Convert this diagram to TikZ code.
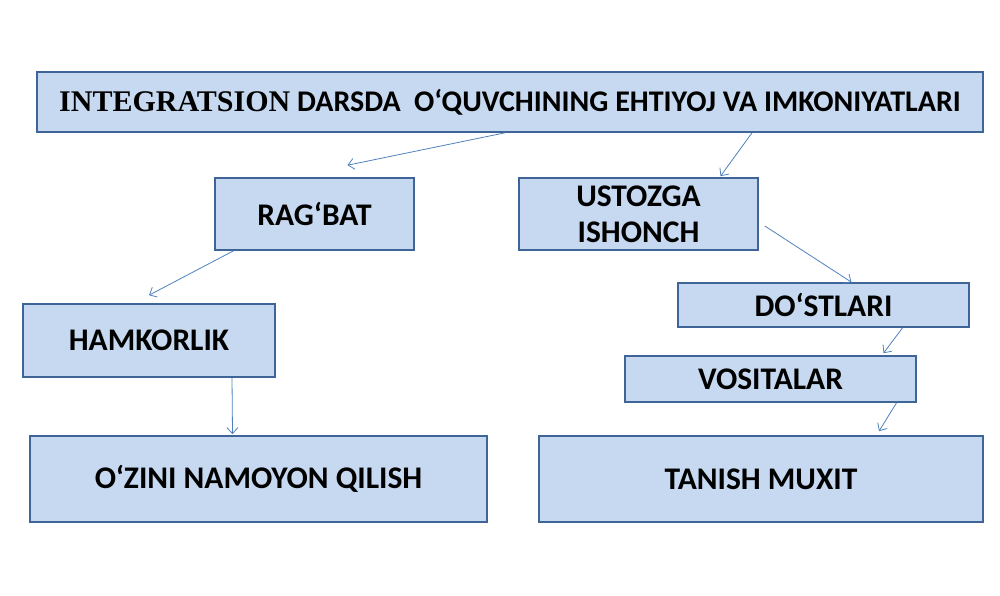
\documentclass[tikz,border=0pt]{standalone}
\usepackage{fontspec}
\setmainfont{Carlito}
\newfontfamily\timesfont{Liberation Serif}
\usetikzlibrary{arrows.meta}

\begin{document}
\begin{tikzpicture}[x=1pt,y=-1pt,
  box/.style={draw=edge, fill=boxfill, line width=1.6pt, align=center, inner sep=0pt,
    font=\bfseries\fontsize{31.5}{36}\selectfont},
  link/.style={draw=wire, line width=0.8pt, -{Straight Barb[length=6pt,width=11pt]}}]
  \definecolor{boxfill}{RGB}{198,217,240}
  \definecolor{edge}{RGB}{62,100,152}
  \definecolor{wire}{RGB}{79,129,189}

  \useasboundingbox (0,0) rectangle (1000,595);

  \node[box, minimum width=946, minimum height=60, font=\bfseries\fontsize{30}{36}\selectfont]
    (goal) at (510,102) {{\timesfont INTEGRATSION} DARSDA\ \ O‘QUVCHINING EHTIYOJ VA IMKONIYATLARI};

  \node[box, minimum width=199, minimum height=72] (rag) at (314.5,214) {RAG‘BAT};
  \node[box, minimum width=239, minimum height=72] (ust) at (638.5,214) {USTOZGA\\ISHONCH};
  \node[box, minimum width=291, minimum height=44] (dost) at (823.5,305) {DO‘STLARI};
  \node[box, minimum width=291, minimum height=46] (vos) at (770.5,379) {VOSITALAR};
  \node[box, minimum width=252, minimum height=73] (ham) at (149,340.5) {HAMKORLIK};
  \node[box, minimum width=457, minimum height=86] (ozini) at (258.5,479) {O‘ZINI NAMOYON QILISH};
  \node[box, minimum width=444, minimum height=86] (tanish) at (761,479) {TANISH MUXIT};

  \draw[link] ([xshift=-5]goal.south) -- ([xshift=33,yshift=12]rag.north);
  \draw[link] ([xshift=242]goal.south) -- ([xshift=82,yshift=1]ust.north);
  \draw[link] ([xshift=-81]rag.south) -- ([yshift=8]ham.north);
  \draw[link] ([xshift=83]ham.south) -- ([xshift=-26,yshift=1]ozini.north);
  \draw[link] ([xshift=6,yshift=-12]ust.east) -- ([xshift=28]dost.north);
  \draw[link] ([xshift=79]dost.south) -- ([xshift=113,yshift=2]vos.north);
  \draw[link] ([xshift=126]vos.south) -- ([xshift=118,yshift=4]tanish.north);
\end{tikzpicture}
\end{document}
